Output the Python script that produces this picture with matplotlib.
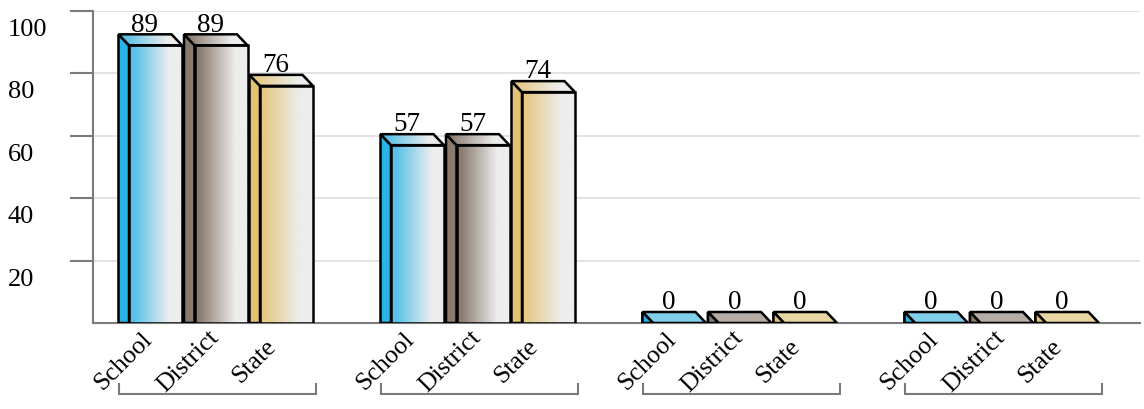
import matplotlib
matplotlib.use('Agg')
import matplotlib.pyplot as plt
import numpy as np
from matplotlib.colors import LinearSegmentedColormap
from matplotlib.patches import Polygon, Rectangle

# ---- data ----
series = ['School', 'District', 'State']
school = [89, 57, 0, 0]
district = [89, 57, 0, 0]
state = [76, 74, 0, 0]
yticks = [20, 40, 60, 80, 100]

values = {'School': school, 'District': district, 'State': state}

# ---- styles ----
side_col = {'School': '#2ab3e6', 'District': '#8a7a6d', 'State': '#e2c275'}
front_col = {'School': '#55c0e8', 'District': '#8c7c70', 'State': '#e5c985'}
flat_top = {'School': '#7fcfeb', 'District': '#b5aca5', 'State': '#e8d6a2'}
light = '#ededed'

SERIF = ['Liberation Serif', 'DejaVu Serif']
plt.rcParams['font.family'] = SERIF

fig = plt.figure(figsize=(11.44, 4.09), dpi=100)
L, R, B, T = 93 / 1144, 1140 / 1144, (409 - 323) / 409, (409 - 11) / 409
ax = fig.add_axes([L, B, R - L, T - B])

n_groups = len(school)
group_w = 1.0
xmax = 1047 / 262
bar_w = 53 / 262
pitch = 0.25
first = 36 / 262
dx = 10.5 / 262
dy = 11 / 3.12
lw = 1.8

grad = np.linspace(0, 1, 256).reshape(1, -1)

for si, name in enumerate(series):
    cmap = LinearSegmentedColormap.from_list(
        name, [(0, front_col[name]), (0.08, front_col[name]), (0.75, light), (1, light)])
    for g in range(n_groups):
        v = values[name][g]
        x0 = g * group_w + first + si * pitch
        x1 = x0 + bar_w
        # side face
        side = Polygon([(x0 - dx, 0), (x0, 0), (x0, v), (x0 - dx, v + dy)], closed=True,
                       facecolor=side_col[name], edgecolor='black', lw=lw, zorder=3,
                       joinstyle='miter')
        ax.add_patch(side)
        # front face
        if v > 0:
            ax.imshow(grad, extent=[x0, x1, 0, v], aspect='auto', cmap=cmap,
                      interpolation='bilinear', zorder=3)
            ax.add_patch(Rectangle((x0, 0), bar_w, v, fill=False, edgecolor='black',
                                   lw=lw, zorder=4, joinstyle='miter'))
        # top face
        top_pts = [(x0, v), (x1, v), (x1 - dx, v + dy), (x0 - dx, v + dy)]
        if v > 0:
            top = Polygon(top_pts, closed=True, facecolor='none', edgecolor='none')
            ax.add_patch(top)
            im2 = ax.imshow(grad, extent=[x0 - dx, x1, v, v + dy], aspect='auto', cmap=cmap,
                            interpolation='bilinear', zorder=3)
            im2.set_clip_path(top)
            ax.add_patch(Polygon(top_pts, closed=True, fill=False, edgecolor='black',
                                 lw=lw, zorder=4, joinstyle='miter'))
        else:
            ax.add_patch(Polygon(top_pts, closed=True, facecolor=flat_top[name],
                                 edgecolor='black', lw=lw, zorder=4, joinstyle='miter'))
            ax.add_patch(Polygon([(x0 - dx, 0), (x0, 0), (x0 - dx, v + dy)], closed=True,
                                 facecolor=side_col[name], edgecolor='black', lw=lw,
                                 zorder=5, joinstyle='miter'))
        # value label
        ax.annotate(str(v), xy=(x0 - dx + bar_w / 2, v + dy), xytext=(0, 2),
                    textcoords='offset points', ha='center', va='baseline',
                    fontsize=19.5, color='black', zorder=6)
        # category label
        xc = (x0 - dx + x1) / 2
        ax.annotate(name, xy=(xc, 0), xycoords=('data', 'axes fraction'),
                    xytext=(-19.5, -27.4), textcoords='offset points',
                    rotation=45, rotation_mode='anchor', ha='center', va='center',
                    fontsize=18.5, annotation_clip=False)

# group brackets
for g in range(n_groups):
    xa = g * group_w + first - dx
    xb = g * group_w + first + 2 * pitch + bar_w + 0.012
    ax.plot([xa, xa, xb, xb], [-0.1955, -0.2276, -0.2276, -0.1955],
            transform=ax.get_xaxis_transform(), color='#7a7a7a', lw=1.5,
            clip_on=False, solid_joinstyle='miter')

ax.set_xlim(0, xmax)
ax.set_ylim(0, 100)
ax.set_xticks([])
ax.set_yticks(yticks)
ax.set_yticklabels([])
ax.tick_params(axis='y', length=16.5, width=1.5, color='#7a7a7a', direction='out')
for t in yticks:
    ax.annotate(str(t), xy=(0, t), xycoords=('axes fraction', 'data'),
                xytext=(-61.2, -13.7), textcoords='offset points',
                ha='left', va='center', fontsize=19, annotation_clip=False)

ax.yaxis.grid(True, color='#dedede', lw=1.2)
ax.set_axisbelow(True)
for s in ['top', 'right']:
    ax.spines[s].set_visible(False)
for s in ['left', 'bottom']:
    ax.spines[s].set_color('#7a7a7a')
    ax.spines[s].set_linewidth(1.5)

fig.savefig('out.png', dpi=100)
